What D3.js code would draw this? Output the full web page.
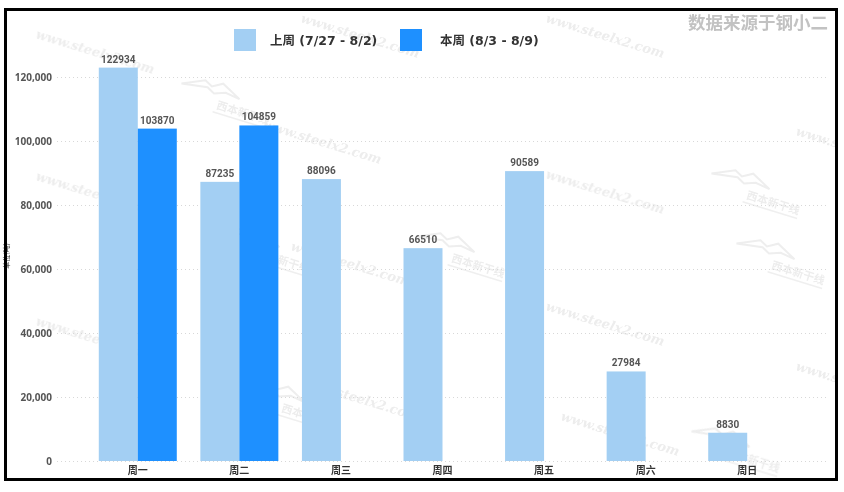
<!DOCTYPE html>
<html>
<head>
<meta charset="utf-8">
<script src="https://cdn.jsdelivr.net/npm/d3@7"></script>
<style>
  html, body { margin:0; padding:0; background:#fff; }
  svg { display:block; }
</style>
</head>
<body>
<svg id="chart" width="844" height="492"></svg>
<script>
/* ---------- data ---------- */
const days      = ["周一","周二","周三","周四","周五","周六","周日"];
const lastWeek  = [122934, 87235, 88096, 66510, 90589, 27984, 8830];
const thisWeek  = [103870, 104859, null, null, null, null, null];
const seriesNames = ["上周 (7/27 - 8/2)", "本周 (8/3 - 8/9)"];
const yTicks    = [0, 20000, 40000, 60000, 80000, 100000, 120000];

const colors = ["#a3cff3", "#1e90ff"];

/* ---------- setup ---------- */
const svg = d3.select("#chart");
const plot = { left: 57, right: 826, top: 77, bottom: 461 };

const x = d3.scaleBand().domain(days).range([87, 798]);
const y = d3.scaleLinear().domain([0, 120000]).range([plot.bottom, plot.top]);
const barW = 39;

const CN  = "'Noto Sans CJK SC', 'Noto Sans', sans-serif";
const LEG = "'DejaVu Sans', 'Noto Sans CJK SC', sans-serif";
const NUM = "'Liberation Sans Narrow', 'Roboto', 'DejaVu Sans Condensed', sans-serif";

svg.append("clipPath").attr("id", "inside")
  .append("rect").attr("x", 7).attr("y", 11).attr("width", 828).attr("height", 467);

/* ---------- watermark (decorative) ---------- */
const wm = svg.append("g").attr("opacity", 0.45).attr("clip-path", "url(#inside)");
const wwwSpots = [
  [35,38,"www.steelx2.com"],[300,22,"www.steelx2.com"],[545,22,"www.steelx2.com"],
  [262,128,"www.steelx2.com"],[35,180,"www.steelx2.com"],[545,178,"www.steelx2.com"],
  [795,135,"www.s"],[290,250,"www.steelx2.com"],[35,325,"www.steelx2.com"],
  [545,310,"www.steelx2.com"],[795,370,"www.s"],[300,385,"www.steelx2.com"],
  [560,420,"www.steelx2.com"]
];
wwwSpots.forEach(([px,py,t]) => {
  wm.append("text")
    .attr("transform", `translate(${px},${py}) rotate(17)`)
    .attr("font-family", "'DejaVu Serif', serif")
    .attr("font-style", "italic")
    .attr("font-weight", "bold")
    .attr("font-size", 13)
    .attr("fill", "#d6d6d6")
    .text(t);
});
const logoSpots = [[185,72],[715,162],[225,220],[420,225],[740,232],[250,375],[695,420]];
logoSpots.forEach(([px,py]) => {
  const g = wm.append("g").attr("transform", `translate(${px},${py}) rotate(17)`);
  g.append("path")
    .attr("d", "M0,12 L22,2 L30,6 L40,0 L60,10 L45,8 L34,12 L26,8 Z")
    .attr("fill", "none").attr("stroke", "#d9d9d9").attr("stroke-width", 2);
  g.append("text")
    .attr("x", 40).attr("y", 26)
    .attr("font-family", CN).attr("font-size", 11).attr("font-weight", "bold")
    .attr("fill", "#d6d6d6").text("西本新干线");
  g.append("line").attr("x1", 38).attr("x2", 95).attr("y1", 30).attr("y2", 30)
    .attr("stroke", "#dcdcdc").attr("stroke-width", 1.5);
});

/* ---------- grid + y axis ---------- */
svg.append("g").selectAll("line").data(yTicks).join("line")
  .attr("x1", plot.left).attr("x2", plot.right)
  .attr("y1", d => y(d) + 0.5).attr("y2", d => y(d) + 0.5)
  .attr("stroke", "#d8d8d8").attr("stroke-dasharray", "1,3");

const fmt = d3.format(",");
svg.append("g").selectAll("text").data(yTicks).join("text")
  .attr("x", 52).attr("y", d => y(d) + 4)
  .attr("text-anchor", "end")
  .attr("font-family", "'Open Sans', sans-serif").attr("font-weight", "bold")
  .attr("font-size", 10).attr("fill", "#555")
  .text(d => fmt(d));

/* ---------- bars ---------- */
const rows = days.map((d, i) => ({ day: d, vals: [lastWeek[i], thisWeek[i]] }));
const groups = svg.append("g").selectAll("g").data(rows).join("g")
  .attr("transform", d => `translate(${x(d.day) + x.bandwidth() / 2},0)`);

const cells = groups.selectAll("g.cell")
  .data(d => d.vals.map((v, k) => ({ v, k })).filter(c => c.v != null))
  .join("g").attr("class", "cell");

cells.append("rect")
  .attr("x", c => c.k === 0 ? -barW : 0)
  .attr("y", c => y(c.v))
  .attr("width", barW)
  .attr("height", c => y(0) - y(c.v))
  .attr("fill", c => colors[c.k]);

cells.append("text")
  .attr("x", c => (c.k === 0 ? -barW : 0) + barW / 2)
  .attr("y", c => y(c.v) - 5)
  .attr("text-anchor", "middle")
  .attr("font-family", NUM).attr("font-weight", "bold")
  .attr("font-size", 10).attr("fill", "#555")
  .text(c => c.v);

/* ---------- x labels ---------- */
svg.append("g").selectAll("text").data(days).join("text")
  .attr("x", d => x(d) + x.bandwidth() / 2)
  .attr("y", 474)
  .attr("text-anchor", "middle")
  .attr("font-family", CN).attr("font-weight", "bold")
  .attr("font-size", 10).attr("fill", "#333")
  .text(d => d);

/* ---------- y label (cut by frame) ---------- */
svg.append("text")
  .attr("transform", "translate(9,256) rotate(-90)")
  .attr("text-anchor", "middle")
  .attr("font-family", CN).attr("font-size", 7).attr("fill", "#333")
  .text("单位(吨)");

/* ---------- legend ---------- */
const legX = [234, 400];
const leg = svg.append("g").selectAll("g").data(seriesNames).join("g")
  .attr("transform", (d, i) => `translate(${legX[i]},29)`);
leg.append("rect").attr("width", 22).attr("height", 22)
  .attr("fill", (d, i) => colors[i]);
leg.append("text").attr("x", (d, i) => i ? 40 : 36).attr("y", 16)
  .attr("font-family", LEG).attr("font-weight", "bold")
  .attr("font-size", 12.5).attr("fill", "#333")
  .text(d => d);

/* ---------- source note ---------- */
svg.append("text")
  .attr("x", 828).attr("y", 29)
  .attr("text-anchor", "end")
  .attr("font-family", CN).attr("font-weight", "bold")
  .attr("font-size", 17.5).attr("fill", "#c2c2c2")
  .text("数据来源于钢小二");

/* ---------- frame ---------- */
svg.append("rect")
  .attr("x", 5.5).attr("y", 9.5).attr("width", 831).attr("height", 470)
  .attr("fill", "none").attr("stroke", "#000").attr("stroke-width", 3);
</script>
</body>
</html>
